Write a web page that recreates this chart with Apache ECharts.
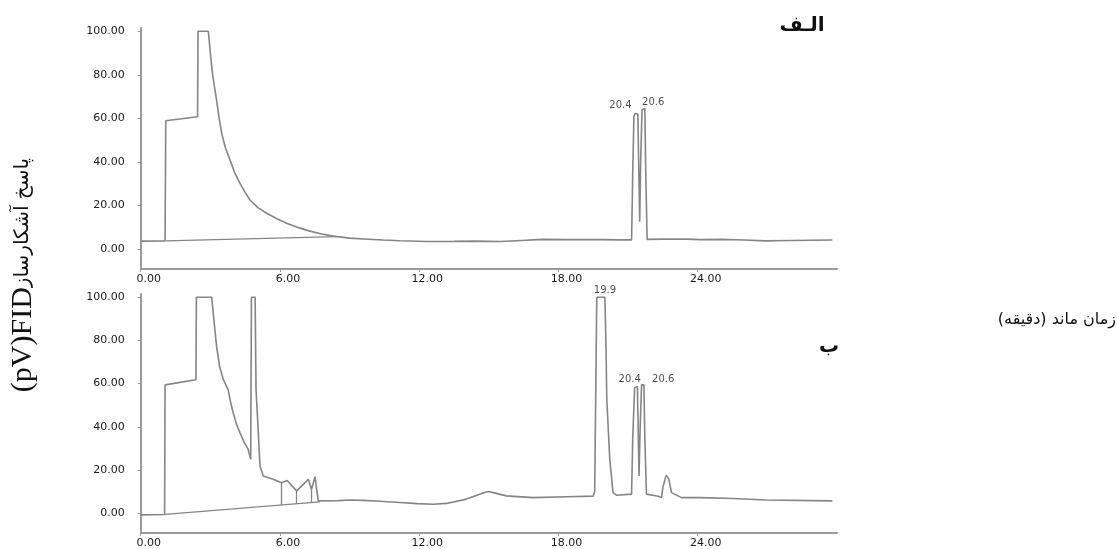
<!DOCTYPE html>
<html>
<head>
<meta charset="utf-8">
<script src="https://cdn.jsdelivr.net/npm/echarts@6/dist/echarts.min.js"></script>
<style>
html,body{margin:0;padding:0;background:#fff;}
#chart{width:1117px;height:549px;}
</style>
</head>
<body>
<div id="chart"></div>
<script>
// ---- data (time in minutes, response in pV) ----
var xTicks = [0, 6, 12, 18, 24];
var yTicks = [0, 20, 40, 60, 80, 100];

// Chromatogram (الف)
var topSignal = [
  [0, 3.6], [1.05, 3.7], [1.08, 58.9], [2.45, 60.7], [2.47, 100], [2.91, 100],
  [2.95, 96], [3.0, 90], [3.1, 80], [3.17, 75], [3.27, 68.3], [3.38, 60],
  [3.49, 53.1], [3.65, 46.5], [3.85, 40.8], [4.05, 35], [4.28, 30.1], [4.5, 26],
  [4.71, 22.5], [5.05, 19], [5.43, 16.4], [5.85, 14], [6.29, 11.8], [6.8, 9.8],
  [7.29, 8.2], [7.8, 6.9], [8.3, 5.9], [9.0, 5.0], [9.8, 4.5], [10.45, 4.1],
  [11.17, 3.8], [12.3, 3.4], [13.5, 3.5], [14.4, 3.6],
  [15.5, 3.4], [16.4, 3.9], [17.3, 4.4], [18.5, 4.3], [19.8, 4.3], [20.6, 4.2],
  [21.15, 4.2], [21.2, 35], [21.25, 61], [21.3, 62.2], [21.42, 62], [21.47, 30],
  [21.5, 12.5], [21.54, 40], [21.6, 64], [21.72, 64.5], [21.76, 35], [21.82, 4.4],
  [22.5, 4.5], [23.5, 4.5], [24.1, 4.3], [25.0, 4.4], [26.0, 4.1], [26.9, 3.7],
  [28.0, 3.9], [29.8, 4.1]
];
var topBaseline = [[1.08, 3.7], [8.44, 5.7]];
var topDrops = [];
var topPeakLabels = [['20.4', 20.67, 65.9], ['20.6', 22.08, 67.1]];

// Chromatogram (ب)
var bottomSignal = [
  [0, -0.8], [1.03, -0.6], [1.05, 59.4], [2.38, 61.8], [2.4, 100], [3.06, 100],
  [3.13, 92], [3.27, 77.1], [3.4, 68], [3.56, 61.8], [3.77, 57.1], [3.88, 51],
  [3.99, 46.4], [4.13, 41], [4.28, 37.2], [4.45, 33], [4.63, 29.5], [4.74, 24.9],
  [4.77, 100], [4.93, 100], [4.97, 57], [5.06, 38.7],
  [5.14, 21.8], [5.28, 17.2], [5.71, 15.7], [6.07, 14.1], [6.31, 15.1], [6.72, 10.3],
  [7.08, 14.1], [7.22, 15.7], [7.36, 11.1], [7.51, 16.9], [7.65, 5.7], [7.72, 5.4],
  [8.5, 5.8], [9.01, 6.1], [9.6, 5.9], [10.3, 5.5], [11.17, 4.9], [11.9, 4.4],
  [12.6, 4.1], [13.18, 4.5], [14.04, 6.5], [14.75, 9.3], [14.97, 10.0], [15.19, 9.5],
  [15.76, 8.0], [16.91, 7.2], [18.35, 7.6], [19.5, 7.9], [19.56, 10], [19.65, 100],
  [20.0, 100], [20.05, 75.6], [20.08, 53], [20.21, 24.9], [20.35, 9.5], [20.5, 8.3],
  [21.15, 8.8], [21.2, 35], [21.28, 58], [21.4, 58.7], [21.44, 35], [21.47, 17.2],
  [21.52, 40], [21.58, 59.4], [21.68, 59.4], [21.72, 35], [21.79, 8.8], [22.3, 7.8],
  [22.44, 7.2], [22.5, 12], [22.6, 16], [22.65, 17.5], [22.75, 16], [22.87, 9.5],
  [23.3, 7.2], [24.09, 7.2], [25.5, 6.8], [26.96, 6.1], [29.8, 5.7]
];
var bottomBaseline = [[1.05, -0.6], [7.72, 5.2]];
var bottomDrops = [[6.07, 14.1, 3.8], [6.72, 10.3, 4.3], [7.36, 11.1, 4.9]];
var bottomPeakLabels = [['19.9', 20.0, 103.2], ['20.4', 21.07, 62.1], ['20.6', 22.51, 61.8]];

var panelTitles = ['الـف', 'ب'];
var xAxisTitle = 'زمان ماند (دقیقه)';
var yAxisTitleLatin = '(pV)FID';
var yAxisTitlePersian = 'پاسخ آشکارساز';

// ---- chart ----
var LINE = '#858585';
var AXIS = '#9a9a9a';
var chart = echarts.init(document.getElementById('chart'), null, {renderer: 'canvas'});

function markLinesFor(base, drops) {
  var d = [[{coord: base[0]}, {coord: base[1]}]];
  drops.forEach(function (p) { d.push([{coord: [p[0], p[1]]}, {coord: [p[0], p[2]]}]); });
  return {silent: true, symbol: ['none', 'none'], label: {show: false},
          lineStyle: {color: LINE, width: 1.3, type: 'solid'}, data: d, animation: false};
}

function xAxisFor(i) {
  return {
    type: 'value', gridIndex: i, min: 0, max: 30,
    axisLine: {show: true, onZero: false, lineStyle: {color: AXIS, width: 2}},
    axisTick: {show: true, length: 3, lineStyle: {color: AXIS}, customValues: xTicks},
    axisLabel: {show: true, customValues: xTicks, margin: 5, color: '#1a1a1a',
                fontFamily: 'DejaVu Sans', fontSize: 11, padding: [0, 0, 0, 16],
                formatter: function (v) { return v.toFixed(2); }},
    splitLine: {show: false}
  };
}
function yAxisFor(i) {
  return {
    type: 'value', gridIndex: i, min: -9.2, max: 101.5,
    axisLine: {show: true, lineStyle: {color: AXIS, width: 2}},
    axisTick: {show: true, length: 3, lineStyle: {color: AXIS}, customValues: yTicks},
    axisLabel: {show: true, customValues: yTicks, margin: 16, color: '#1a1a1a',
                fontFamily: 'DejaVu Sans', fontSize: 11,
                formatter: function (v) { return v.toFixed(2); }},
    splitLine: {show: false}
  };
}
function labelSeries(i, arr) {
  return {
    type: 'scatter', xAxisIndex: i, yAxisIndex: i, clip: false, symbolSize: 0,
    silent: true,
    data: arr.map(function (p) { return {value: [p[1], p[2]], name: p[0]}; }),
    label: {show: true, position: 'inside', formatter: function (pp) { return pp.name; },
            fontFamily: 'DejaVu Sans', fontSize: 10, color: '#1a1a1a'}
  };
}

var option = {
  animation: false,
  backgroundColor: '#ffffff',
  grid: [
    {left: 140.7, right: 280, top: 28, height: 241},
    {left: 140.7, right: 280, top: 294, height: 240}
  ],
  xAxis: [xAxisFor(0), xAxisFor(1)],
  yAxis: [yAxisFor(0), yAxisFor(1)],
  series: [
    {type: 'line', xAxisIndex: 0, yAxisIndex: 0, data: topSignal, showSymbol: false,
     symbol: 'none', lineStyle: {color: LINE, width: 1.6}, clip: false,
     markLine: markLinesFor(topBaseline, topDrops)},
    {type: 'line', xAxisIndex: 1, yAxisIndex: 1, data: bottomSignal, showSymbol: false,
     symbol: 'none', lineStyle: {color: LINE, width: 1.6}, clip: false,
     markLine: markLinesFor(bottomBaseline, bottomDrops)},
    labelSeries(0, topPeakLabels),
    labelSeries(1, bottomPeakLabels)
  ],
  graphic: [
    {type: 'text', x: 802, y: 26, style: {text: panelTitles[0], fill: '#111',
      font: 'bold 20px "DejaVu Sans"', align: 'center', verticalAlign: 'middle'}},
    {type: 'text', x: 829, y: 347, style: {text: panelTitles[1], fill: '#111',
      font: 'bold 20px "DejaVu Sans"', align: 'center', verticalAlign: 'middle'}},
    {type: 'text', x: 1116, y: 320, style: {text: xAxisTitle, fill: '#111',
      font: '16px "DejaVu Sans"', align: 'right', verticalAlign: 'middle'}},
    {type: 'text', x: 23, y: 275, rotation: Math.PI / 2,
     style: {text: '{a|' + yAxisTitleLatin + '}{b|' + yAxisTitlePersian + '}',
       align: 'center', verticalAlign: 'middle', fill: '#111',
       rich: {a: {fontFamily: 'Liberation Serif', fontSize: 30, fill: '#111'},
              b: {fontFamily: 'DejaVu Sans', fontSize: 20, fill: '#111'}}}}
  ]
};
chart.setOption(option);
</script>
</body>
</html>
